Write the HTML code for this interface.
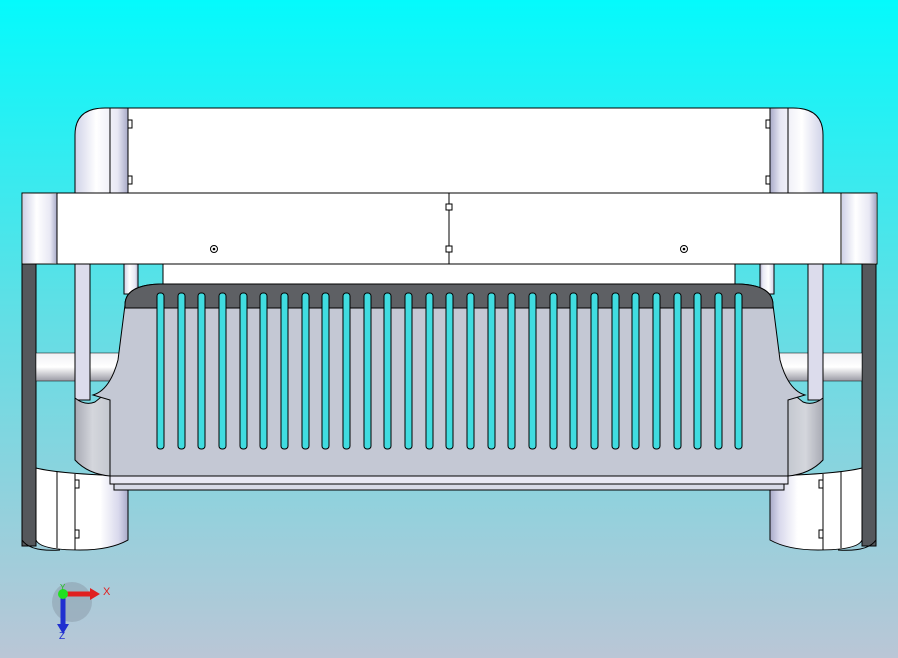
<!DOCTYPE html>
<html><head><style>html,body{margin:0;padding:0;width:898px;height:658px;overflow:hidden}</style></head>
<body>
<svg width="898" height="658" viewBox="0 0 898 658" xmlns="http://www.w3.org/2000/svg">
<defs>
<linearGradient id="bg" x1="0" y1="0" x2="0" y2="1">
<stop offset="0" stop-color="#04fafc"/><stop offset="0.45" stop-color="#5ce0e6"/><stop offset="1" stop-color="#bac6d6"/>
</linearGradient>
<linearGradient id="cyl" x1="0" y1="0" x2="1" y2="0">
<stop offset="0" stop-color="#d0d2e8"/><stop offset="0.4" stop-color="#ffffff"/><stop offset="0.8" stop-color="#e8e8f4"/><stop offset="1" stop-color="#a8aac8"/>
</linearGradient>
<linearGradient id="leg" x1="0" y1="0" x2="1" y2="0">
<stop offset="0" stop-color="#ffffff"/><stop offset="0.7" stop-color="#ffffff"/><stop offset="0.9" stop-color="#d8d8ec"/><stop offset="1" stop-color="#a8aac8"/>
</linearGradient>
<linearGradient id="wing" x1="0" y1="0" x2="1" y2="0">
<stop offset="0" stop-color="#a8aab4"/><stop offset="0.5" stop-color="#d4d6dc"/><stop offset="1" stop-color="#c4c8d0"/>
</linearGradient>
<linearGradient id="rod" x1="0" y1="0" x2="0" y2="1">
<stop offset="0" stop-color="#f0f0f4"/><stop offset="0.5" stop-color="#ffffff"/><stop offset="1" stop-color="#9a9aa4"/>
</linearGradient>
<g id="side" stroke="#000" stroke-width="1">
<path d="M75,193 V135 Q75,108 105,108 H128 V193 Z" fill="url(#cyl)"/>
<line x1="110" y1="108" x2="110" y2="193"/>
<rect x="22" y="264" width="14" height="282" fill="#55585c"/>
<path d="M36,468 Q60,474 128,476 V540 Q110,550 80,550 Q40,550 36,540 Z" fill="url(#leg)"/>
<path d="M22,264 V540 Q30,552 60,550" fill="none"/>
<line x1="57" y1="472" x2="57" y2="548"/><line x1="75" y1="474" x2="75" y2="550"/>
<path d="M75,480 h4 v8 h-4 M75,530 h4 v8 h-4" fill="none"/>
<rect x="36" y="353" width="84" height="28" fill="url(#rod)" stroke-width="0.5"/>
<rect x="75" y="264" width="15" height="136" fill="#dcdcec"/>
<rect x="124" y="264" width="14" height="30" fill="url(#cyl)"/>
<path d="M75,398 Q85,406 95,402 L110,390 V476 Q88,474 75,460 Z" fill="url(#wing)"/>
</g>
</defs>
<rect width="898" height="658" fill="url(#bg)"/>
<rect x="128" y="108" width="642" height="85" fill="#fff" stroke="#000"/>
<path d="M128,120 h4 v8 h-4 M128,176 h4 v8 h-4 M770,120 h-4 v8 h4 M770,176 h-4 v8 h4" fill="none" stroke="#000"/>
<use href="#side"/>
<use href="#side" transform="translate(898,0) scale(-1,1)"/>
<rect x="163" y="264" width="572" height="20" fill="#fff" stroke="#000"/>
<rect x="22" y="193" width="855" height="71" fill="#fff" stroke="#000"/>
<rect x="23" y="194" width="34" height="69" fill="url(#cyl)"/>
<rect x="842" y="194" width="34" height="69" fill="url(#cyl)"/>
<line x1="57" y1="193" x2="57" y2="264" stroke="#000"/><line x1="841" y1="193" x2="841" y2="264" stroke="#000"/>
<line x1="449" y1="193" x2="449" y2="264" stroke="#000"/>
<rect x="446" y="204" width="6" height="6" fill="#fff" stroke="#000"/>
<rect x="446" y="246" width="6" height="6" fill="#fff" stroke="#000"/>
<circle cx="214" cy="249" r="3.5" fill="#fff" stroke="#000"/><circle cx="214" cy="249" r="1.3"/>
<circle cx="684" cy="249" r="3.5" fill="#fff" stroke="#000"/><circle cx="684" cy="249" r="1.3"/>
<path d="M125,305 Q125,285 160,284 H738 Q773,285 773,305 L780,360 Q788,390 805,395 L788,400 V476 H110 V400 L93,395 Q110,390 118,360 Z" fill="#c4c8d4" stroke="#000"/>
<path d="M125,305 Q125,285 160,284 H738 Q773,285 773,305 L773,308 H125 Z" fill="#5e6064" stroke="#000"/>
<rect x="110" y="476" width="678" height="8" fill="#e8e8f4" stroke="#000"/>
<rect x="114" y="484" width="670" height="6" fill="#d8dae8" stroke="#000"/>
<g fill="#40dce0" stroke="#000">
<rect x="157" y="293" width="7" height="156" rx="3"/><rect x="178" y="293" width="7" height="156" rx="3"/><rect x="198" y="293" width="7" height="156" rx="3"/><rect x="219" y="293" width="7" height="156" rx="3"/><rect x="240" y="293" width="7" height="156" rx="3"/><rect x="260" y="293" width="7" height="156" rx="3"/><rect x="281" y="293" width="7" height="156" rx="3"/><rect x="302" y="293" width="7" height="156" rx="3"/><rect x="322" y="293" width="7" height="156" rx="3"/><rect x="343" y="293" width="7" height="156" rx="3"/><rect x="364" y="293" width="7" height="156" rx="3"/><rect x="384" y="293" width="7" height="156" rx="3"/><rect x="405" y="293" width="7" height="156" rx="3"/><rect x="426" y="293" width="7" height="156" rx="3"/><rect x="446" y="293" width="7" height="156" rx="3"/><rect x="467" y="293" width="7" height="156" rx="3"/><rect x="488" y="293" width="7" height="156" rx="3"/><rect x="508" y="293" width="7" height="156" rx="3"/><rect x="529" y="293" width="7" height="156" rx="3"/><rect x="550" y="293" width="7" height="156" rx="3"/><rect x="570" y="293" width="7" height="156" rx="3"/><rect x="591" y="293" width="7" height="156" rx="3"/><rect x="612" y="293" width="7" height="156" rx="3"/><rect x="632" y="293" width="7" height="156" rx="3"/><rect x="653" y="293" width="7" height="156" rx="3"/><rect x="674" y="293" width="7" height="156" rx="3"/><rect x="694" y="293" width="7" height="156" rx="3"/><rect x="715" y="293" width="7" height="156" rx="3"/><rect x="735" y="293" width="7" height="156" rx="3"/>
</g>
<circle cx="72" cy="602" r="20" fill="#8a9aa8" opacity="0.5"/>
<line x1="63" y1="594" x2="92" y2="594" stroke="#e02020" stroke-width="5"/>
<path d="M90,588 L100,594 L90,600 Z" fill="#e02020"/>
<line x1="63" y1="594" x2="63" y2="626" stroke="#2030d0" stroke-width="5"/>
<path d="M57,624 L63,634 L69,624 Z" fill="#2030d0"/>
<circle cx="63" cy="594" r="5" fill="#20e020"/>
<text x="103" y="595" font-family="Liberation Sans, sans-serif" font-size="11" fill="#e02020">X</text>
<text x="59" y="639" font-family="Liberation Sans, sans-serif" font-size="10" fill="#2030d0">Z</text>
<text x="60" y="590" font-family="Liberation Sans, sans-serif" font-size="8" fill="#20c020">Y</text>
</svg>
</body></html>
